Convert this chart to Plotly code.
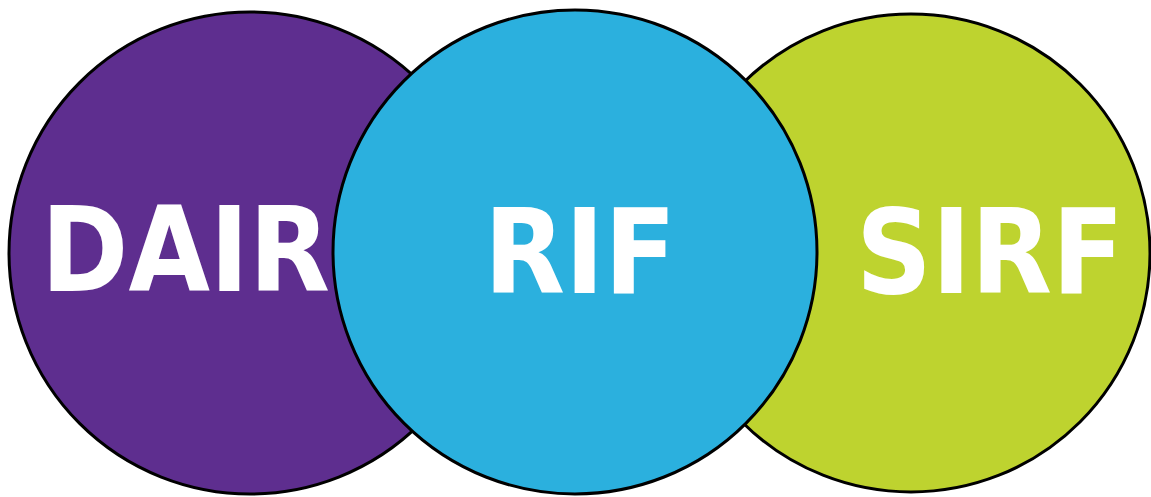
import plotly.graph_objects as go

labels = ["DAIR", "SIRF", "RIF"]
centers_x = [250, 911, 575]
centers_y = [253, 253, 252]
radii = [241, 239, 242]
fill_colors = ["#5E2E8F", "#BED32F", "#2BB0DE"]
label_x = [185, 990, 580]
label_y = [250, 252, 252]

fig = go.Figure()
fig.add_trace(go.Scatter(x=[0, 1151], y=[0, 497], mode="markers",
                         marker=dict(opacity=0), hoverinfo="skip", showlegend=False))

for cx, cy, r, col in zip(centers_x, centers_y, radii, fill_colors):
    fig.add_shape(type="circle", xref="x", yref="y",
                  x0=cx - r, x1=cx + r, y0=cy - r, y1=cy + r,
                  fillcolor=col, line=dict(color="black", width=3), layer="above")

for lab, lx, ly in zip(labels, label_x, label_y):
    fig.add_annotation(x=lx, y=ly, xref="x", yref="y", text=f"<b>{lab}</b>",
                       showarrow=False,
                       font=dict(family="DejaVu Sans Condensed, Liberation Sans Narrow, sans-serif",
                                 size=117, color="white"))

fig.update_layout(
    width=1151, height=497,
    margin=dict(l=0, r=0, t=0, b=0),
    paper_bgcolor="white", plot_bgcolor="white",
    xaxis=dict(range=[0, 1151], visible=False, fixedrange=True),
    yaxis=dict(range=[497, 0], visible=False, fixedrange=True),
    showlegend=False,
)
fig.write_html("out.html", config={"displayModeBar": False},
               post_script="document.body.style.margin='0';")
